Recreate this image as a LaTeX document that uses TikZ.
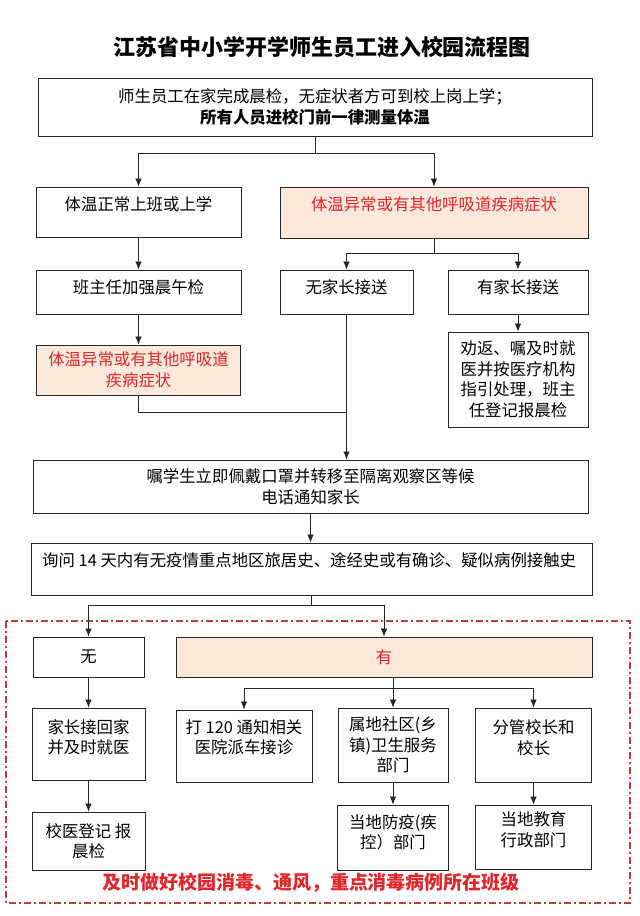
\documentclass[tikz,border=0pt]{standalone}
\usepackage{fontspec}
\setmainfont{Noto Sans CJK SC}
\usetikzlibrary{arrows.meta}

\definecolor{warmpink}{HTML}{FDE9DC}
\definecolor{alertred}{HTML}{E3262B}
\definecolor{framered}{HTML}{B8403D}
\newcommand{\bodyfont}{\fontsize{16.4pt}{20.5pt}\selectfont}

\tikzset{
    box/.style={draw=black!85, line width=0.9pt, inner sep=0pt, align=center, font=\bodyfont},
    hot/.style={box, fill=warmpink, text=alertred},
    txt/.style={inner sep=0pt, align=center, font=\bodyfont},
    link/.style={draw=black!85, line width=0.8pt},
    go/.style={link, -{Latex[length=8pt,width=6.5pt]}}
}

\begin{document}
\begin{tikzpicture}[x=1pt, y=-1pt]
    \useasboundingbox (0,0) rectangle (640,916);
    % title
    \node[font=\fontsize{22pt}{26pt}\selectfont\bfseries] (title) at (322,47)
        {江苏省中小学开学师生员工进入校园流程图};
    % upper part
    \node[box, minimum width=554, minimum height=58] (top) at (315,107)
        {师生员工在家完成晨检，无症状者方可到校上岗上学；\\ \textbf{所有人员进校门前一律测量体温}};
    \node[box, minimum width=205, minimum height=50] (A) at (138.5,212) {};
    \node[txt] (tA) at (138.5,204) {体温正常上班或上学};
    \node[hot, minimum width=308, minimum height=51] (B) at (434,212.5) {};
    \node[txt, text=alertred] (tB) at (434,204) {体温异常或有其他呼吸道疾病症状};
    \node[box, minimum width=205, minimum height=44] (C) at (138.5,292) {};
    \node[txt] (tC) at (138.5,287) {班主任加强晨午检};
    \node[box, minimum width=133, minimum height=44] (D) at (346.5,292) {};
    \node[txt] (tD) at (346.5,287) {无家长接送};
    \node[box, minimum width=140, minimum height=44] (E) at (518,292) {};
    \node[txt] (tE) at (518,287) {有家长接送};
    \node[hot, minimum width=204, minimum height=50] (F) at (138.5,370)
        {体温异常或有其他呼吸道\\疾病症状};
    \node[box, minimum width=140, minimum height=95] (G) at (518,379.5)
        {劝返、嘱及时就\\医并按医疗机构\\指引处理，班主\\任登记报晨检};
    \node[box, minimum width=555, minimum height=53] (H) at (310.5,486.5)
        {嘱学生立即佩戴口罩并转移至隔离观察区等候\\电话通知家长};
    \node[box, minimum width=561, minimum height=52] (I) at (311.5,569) {};
    \node[txt, anchor=west] (tI) at (42,560)
        {询问 14 天内有无疫情重点地区旅居史、途经史或有确诊、疑似病例接触史};
    % lower part
    \draw[framered, line width=1.2pt, dash pattern=on 7pt off 3pt on 2pt off 3pt]
        (6,621) rectangle (630,903);
    \node[box, minimum width=111, minimum height=40] (J) at (88.5,657) {无};
    \node[hot, minimum width=416, minimum height=40] (K) at (384,657) {有};
    \node[box, minimum width=113, minimum height=72] (L) at (88.5,744) {};
    \node[txt] (tL) at (88.5,737.5) {家长接回家\\并及时就医};
    \node[box, minimum width=136, minimum height=72] (M) at (244,746) {};
    \node[txt] (tM) at (244,737.5) {打 120 通知相关\\医院派车接诊};
    \node[box, minimum width=110, minimum height=74] (N) at (393,745)
        {属地社区(乡\\镇)卫生服务\\部门};
    \node[box, minimum width=116, minimum height=74] (O) at (533.5,745) {};
    \node[txt] (tO) at (533.5,737.5) {分管校长和\\校长};
    \node[box, minimum width=113, minimum height=58] (P) at (88.5,841)
        {校医登记\ 报\\晨检};
    \node[box, minimum width=111, minimum height=65] (Q) at (393,837.5) {};
    \node[txt] (tQ) at (393,832.5) {当地防疫(疾\\控）部门};
    \node[box, minimum width=116, minimum height=64] (R) at (533.5,837) {};
    \node[txt] (tR) at (533.5,829.5) {当地教育\\行政部门};
    \node[font=\fontsize{19pt}{22pt}\selectfont\bfseries, text=alertred] (note) at (311,883)
        {及时做好校园消毒、通风，重点消毒病例所在班级};
    % connectors
    \coordinate (split1) at (315,153);
    \draw[link] (top.south) -- (split1);
    \draw[go] (split1) -| (A.north);
    \draw[go] (split1) -| (B.north);
    \draw[go] (A) -- (C);
    \draw[go] (C) -- (F);
    \coordinate (split2) at (434,253);
    \draw[link] (B.south) -- (split2);
    \draw[go] (split2) -| (D.north);
    \draw[go] (split2) -| (E.north);
    \draw[go] (E) -- (G);
    \draw[go] (D.south) -- (D.south |- H.north);
    \coordinate (join) at (346.5,412);
    \draw[link] (F.south) |- (join);
    \draw[go] (H.south) -- (H.south |- I.north);
    \coordinate (split3) at (311.5,605);
    \draw[link] (I.south) -- (split3);
    \draw[go] (split3) -| (J.north);
    \draw[go] (split3) -| (K.north);
    \coordinate (split4) at (393,688);
    \draw[link] (K.south -| split4) -- (split4);
    \draw[go] (split4) -| (M.north);
    \draw[go] (split4) -- (N.north);
    \draw[go] (split4) -| (O.north);
    \draw[go] (J) -- (L);
    \draw[go] (L) -- (P);
    \draw[go] (N) -- (Q);
    \draw[go] (O) -- (R);
\end{tikzpicture}
\end{document}
